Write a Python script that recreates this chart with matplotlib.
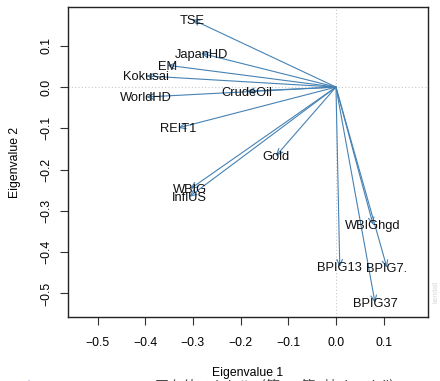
import matplotlib
matplotlib.use("Agg")
import matplotlib.pyplot as plt
from matplotlib.patches import FancyArrowPatch

plt.rcParams['font.family'] = ['Liberation Sans', 'Noto Sans CJK JP', 'DejaVu Sans']

# Loadings of each asset on the first two eigenvectors
assets = ["TSE", "JapanHD", "EM", "Kokusai", "WorldHD", "CrudeOil", "REIT1",
          "Gold", "WBIG", "InflUS", "WBIGhgd", "BPIG13", "BPIG7.", "BPIG37"]
ev1 = [-0.302, -0.283, -0.354, -0.398, -0.398, -0.187, -0.331,
       -0.126, -0.306, -0.308, 0.078, 0.008, 0.107, 0.082]
ev2 = [0.164, 0.082, 0.053, 0.027, -0.024, -0.010, -0.099,
       -0.167, -0.247, -0.266, -0.334, -0.436, -0.438, -0.523]

x_ticks = [-0.5, -0.4, -0.3, -0.2, -0.1, 0.0, 0.1]
y_ticks = [0.1, 0.0, -0.1, -0.2, -0.3, -0.4, -0.5]

W, H, DPI = 440, 381, 100
fig = plt.figure(figsize=(W / DPI, H / DPI), dpi=DPI)
ax = fig.add_axes([68 / W, 1 - 317 / H, 360 / W, 310 / H])

ax.set_xlim(-0.562, 0.193)
ax.set_ylim(-0.557, 0.194)

# reference lines through the origin
ax.axvline(0, color="#c8c8c8", lw=0.8, ls=(0, (1, 2)), zorder=1)
ax.axhline(0, color="#c8c8c8", lw=0.8, ls=(0, (1, 2)), zorder=1)

arrow_color = "#4682B4"
for name, x, y in zip(assets, ev1, ev2):
    arr = FancyArrowPatch((0, 0), (x, y),
                          arrowstyle="->,head_length=0.45,head_width=0.2",
                          mutation_scale=10, color=arrow_color, lw=0.8,
                          shrinkA=0, shrinkB=0, zorder=2)
    ax.add_patch(arr)
    ax.annotate(name, (x, y), xytext=(0, -1), textcoords="offset points",
                ha="center", va="center", fontsize=9.3,
                color="#111111", zorder=3)

ax.set_xticks(x_ticks)
ax.set_yticks(y_ticks)
ax.set_xticklabels([f"{v:.1f}".replace("-", "\u2212") for v in x_ticks])
ax.set_yticklabels([f"{v:.1f}".replace("-", "\u2212") for v in y_ticks],
                   rotation=90, va="center")
ax.tick_params(axis="both", direction="out", length=5.5, width=0.8,
               labelsize=8.8, color="#333333")
ax.tick_params(axis="x", pad=9)
ax.tick_params(axis="y", pad=6)

for sp in ax.spines.values():
    sp.set_linewidth(1.0)
    sp.set_color("#222222")

fig.text(248 / W, 1 - 373 / H, "Eigenvalue 1", ha="center", va="center",
         fontsize=8.8, zorder=5)
fig.text(15 / W, 1 - 162 / H, "Eigenvalue 2", ha="center", va="center",
         rotation=90, fontsize=8.8)

# caption line running off the lower edge
fig.text(20 / W, 1 - 380 / H, "Figure", ha="left", va="top", fontsize=10,
         color="#b0b0f0", zorder=1)
fig.text(155 / W, 1 - 379.5 / H, "固有値ベクトル（第1・第2軸, kendall）",
         ha="left", va="top", fontsize=10, color="#444444", zorder=1)
fig.text(436 / W, 1 - 292 / H, "kendall", ha="center", va="center",
         rotation=90, fontsize=5, color="#d8d8d8")

fig.savefig("out.png", dpi=DPI)
